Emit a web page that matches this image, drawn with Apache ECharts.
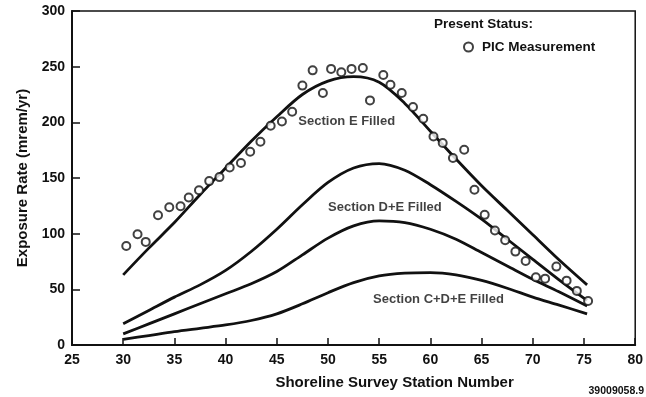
<!doctype html>
<html lang="en">
<head>
<meta charset="utf-8">
<title>Exposure Rate vs Shoreline Survey Station</title>
<style>
  html, body { margin: 0; padding: 0; background: #fff; }
  #main { width: 646px; height: 397px; }
</style>
</head>
<body>
<div id="main"></div>
<script src="https://cdn.jsdelivr.net/npm/echarts@6/dist/echarts.min.js"></script>
<script>
    // PIC measurements (station number, mrem/yr)
    var stationX = [30.3, 31.4, 32.2, 33.4, 34.5, 35.6, 36.4, 37.4, 38.4, 39.4,
        40.4, 41.5, 42.4, 43.4, 44.4, 45.5, 46.5, 47.5, 48.5, 49.5,
        50.3, 51.3, 52.3, 53.4, 54.1, 55.4, 56.1, 57.2, 58.3, 59.3,
        60.3, 61.2, 62.2, 63.3, 64.3, 65.3, 66.3, 67.3, 68.3, 69.3,
        70.3, 71.2, 72.3, 73.3, 74.3, 75.4];
    var picValues = [89, 99.5, 92.6, 116.6, 123.8, 124.7, 132.5, 139, 147.2, 150.8,
        159.4, 163.4, 173.6, 182.6, 197, 200.8, 209.5, 233, 246.7, 226.3,
        248, 245, 248, 248.8, 219.7, 242.5, 233.8, 226.3, 213.7, 203.2,
        187.3, 181.4, 167.9, 175.4, 139.4, 116.9, 102.8, 94.1, 83.9, 75.5,
        60.9, 59.6, 70.4, 57.8, 48.6, 39.6];

    // modelled curves
    var curveX = [30, 32.5, 35, 37.5, 40, 42.5, 45, 47.5, 50, 52.5, 55, 57.5, 60, 62.5, 65, 67.5, 70, 72.5, 75.3];
    var sectionE = [63, 87, 110, 135, 159, 183, 205, 225, 237, 241, 236, 217, 192, 167, 143, 121, 99, 77, 54];
    var sectionDE = [19, 31, 43, 54, 67, 84, 104, 126, 146, 159, 163, 157, 144, 129, 113, 95, 77, 59, 40];
    var sectionMid = [10, 19, 28, 37, 46, 55, 66, 81, 96, 107, 111.5, 110, 104, 95, 83, 71, 59, 48, 35];
    var sectionCDE = [5, 8.5, 12, 15, 18, 22, 28, 37, 47, 56, 62, 64.5, 65, 63, 58, 51, 43, 36, 28];

    // curve labels
    var labelText = ['Section E Filled', 'Section D+E Filled', 'Section C+D+E Filled'];
    var labelX = [47.1, 50, 54.4];
    var labelY = [200.5, 123.8, 40.5];

    var ink = '#111';
    var font = '"Liberation Sans", Arial, Helvetica, sans-serif';

    var pair = function(xs, ys) {
        var res = [];
        for (var i = 0; i < xs.length; i++) res.push([xs[i], ys[i]]);
        return res;
    };

    var curve = function(name, ys) {
        return {
            name: name,
            type: 'line',
            data: pair(curveX, ys),
            smooth: 0.3,
            showSymbol: false,
            lineStyle: { color: ink, width: 2.8 },
            z: 2
        };
    };

    var labelData = [];
    for (var i = 0; i < labelText.length; i++) {
        labelData.push({ value: [labelX[i], labelY[i]], name: labelText[i] });
    }

    var myChart = echarts.init(document.getElementById('main'));
    var option = {
        animation: false,
        backgroundColor: '#fff',
        textStyle: { fontFamily: font },
        grid: {
            left: 72, right: 8, top: 11, bottom: 52,
            show: true, borderColor: ink, borderWidth: 1.5
        },
        legend: {
            data: ['PIC Measurement'],
            left: 458, top: 35,
            itemWidth: 9, itemHeight: 9,
            textStyle: { fontFamily: font, fontWeight: 'bold', fontSize: 13.5, color: ink, padding: [0, 0, 0, 4] }
        },
        xAxis: {
            type: 'value',
            min: 25, max: 80, interval: 5,
            name: 'Shoreline Survey Station Number',
            nameLocation: 'middle',
            nameGap: 30,
            nameTextStyle: { fontFamily: font, fontWeight: 'bold', fontSize: 15, color: ink, padding: [0, 0, 0, 82] },
            axisLine: { lineStyle: { color: ink, width: 2 } },
            axisTick: { inside: true, length: 7, lineStyle: { color: ink, width: 1.5 } },
            axisLabel: { margin: 8, fontFamily: font, fontWeight: 'bold', fontSize: 14, color: ink },
            splitLine: { show: false }
        },
        yAxis: {
            type: 'value',
            min: 0, max: 300, interval: 50,
            name: 'Exposure Rate (mrem/yr)',
            nameLocation: 'middle',
            nameGap: 42,
            nameTextStyle: { fontFamily: font, fontWeight: 'bold', fontSize: 15, color: ink },
            axisLine: { lineStyle: { color: ink, width: 2 } },
            axisTick: { inside: true, length: 8, lineStyle: { color: ink, width: 1.5 } },
            axisLabel: { margin: 7, fontFamily: font, fontWeight: 'bold', fontSize: 14, color: ink },
            splitLine: { show: false }
        },
        graphic: [
            {
                type: 'text', left: 434, top: 17,
                style: { text: 'Present Status:', fontFamily: font, fontWeight: 'bold', fontSize: 13.5, fill: ink }
            },
            {
                type: 'text', right: 2, top: 386,
                style: { text: '39009058.9', fontFamily: font, fontWeight: 'bold', fontSize: 10.5, fill: ink }
            }
        ],
        series: [
            curve('Section E', sectionE),
            curve('Section D+E', sectionDE),
            curve('Section mid', sectionMid),
            curve('Section C+D+E', sectionCDE),
            {
                name: 'labels',
                type: 'scatter',
                symbolSize: 0,
                silent: true,
                data: labelData,
                label: {
                    show: true,
                    position: 'right',
                    distance: 0,
                    formatter: '{b}',
                    fontFamily: font,
                    fontWeight: 'bold',
                    fontSize: 13,
                    color: ink
                }
            },
            {
                name: 'PIC Measurement',
                type: 'scatter',
                symbol: 'emptyCircle',
                symbolSize: 8,
                data: pair(stationX, picValues),
                itemStyle: { color: ink, borderColor: ink, borderWidth: 1.6 },
                z: 5
            }
        ]
    };
    myChart.setOption(option);
</script>
</body>
</html>
